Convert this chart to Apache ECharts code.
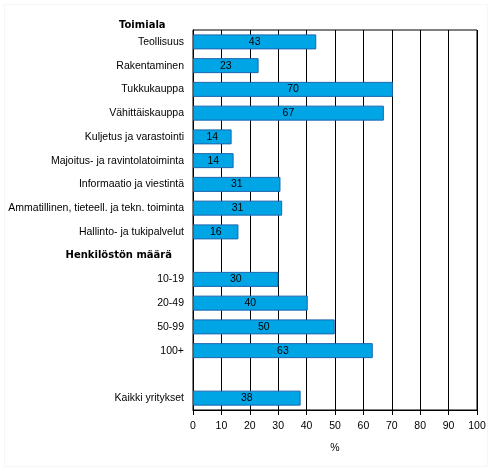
<!DOCTYPE html>
<html>
<head>
<meta charset="utf-8">
<script src="https://cdn.jsdelivr.net/npm/echarts@6/dist/echarts.min.js"></script>
<style>
  html, body { margin: 0; padding: 0; background: #fff; }
  #chart { width: 492px; height: 471px; }
</style>
</head>
<body>
<div id="chart"></div>
<script>
// rivit ylhäältä alas
var categories = [
  'Teollisuus', 'Rakentaminen', 'Tukkukauppa', 'Vähittäiskauppa',
  'Kuljetus ja varastointi', 'Majoitus- ja ravintolatoiminta',
  'Informaatio ja viestintä', 'Ammatillinen, tieteell. ja tekn. toiminta',
  'Hallinto- ja tukipalvelut', 'Henkilöstön määrä',
  '10-19', '20-49', '50-99', '100+', '', 'Kaikki yritykset'
];
var values = [43.4, 23.1, 70.4, 67.2, 13.6, 14.3, 30.8, 31.4, 16.0, null,
  30.1, 40.4, 49.9, 63.3, null, 37.9];
var xTicks = [0, 10, 20, 30, 40, 50, 60, 70, 80, 90, 100];
var groupTitle = 'Toimiala';
var headerRow = 'Henkilöstön määrä';

var myChart = echarts.init(document.getElementById('chart'));
var font = 'Liberation Sans, Arial, sans-serif';
var boldFont = 'DejaVu Sans, Verdana, sans-serif';

option = {
  backgroundColor: '#fff',
  animation: false,
  textStyle: { fontFamily: font },
  graphic: [{
    type: 'rect',
    shape: { x: 4.5, y: 4.5, width: 483, height: 462 },
    style: { fill: 'none', stroke: '#f6f6f6', lineWidth: 1 },
    silent: true
  }, {
    type: 'text',
    left: 119,
    top: 20,
    style: { text: groupTitle, font: 'bold 10px ' + boldFont, fill: '#000' }
  }],
  grid: {
    left: 193, right: 15, top: 30, bottom: 61,
    outerBoundsMode: 'none',
    containLabel: false,
    show: true, borderColor: '#000', borderWidth: 1
  },
  xAxis: {
    type: 'value',
    min: 0, max: 100, interval: 10,
    name: '%',
    nameLocation: 'middle',
    nameGap: 33,
    nameTextStyle: { color: '#000', fontSize: 10.5, fontFamily: font },
    axisLine: { show: true, lineStyle: { color: '#000' } },
    axisTick: { show: true, length: 5, lineStyle: { color: '#000' } },
    axisLabel: {
      color: '#000', fontSize: 10.5, margin: 11,
      formatter: function (v) { return xTicks.indexOf(v) >= 0 ? String(v) : ''; }
    },
    splitLine: { show: true, lineStyle: { color: '#000', width: 1 } }
  },
  yAxis: {
    type: 'category',
    inverse: true,
    data: categories,
    axisLine: { show: true, lineStyle: { color: '#000' } },
    axisTick: { show: false },
    axisLabel: {
      color: '#000', fontSize: 10.5, margin: 9,
      formatter: function (v) {
        return v === headerRow ? '{b|' + v + '}' : v;
      },
      rich: {
        b: { fontWeight: 'bold', fontSize: 10, fontFamily: boldFont, color: '#000', padding: [0, 12, 0, 0] }
      }
    }
  },
  series: [{
    type: 'bar',
    data: values,
    barWidth: 15,
    itemStyle: { color: '#00a5e6', borderColor: '#1d65ad', borderWidth: 1 },
    label: {
      show: true,
      position: 'inside',
      color: '#000',
      fontSize: 10.5,
      formatter: function (p) { return p.value == null ? '' : Math.round(p.value); }
    }
  }]
};
myChart.setOption(option);
</script>
</body>
</html>
